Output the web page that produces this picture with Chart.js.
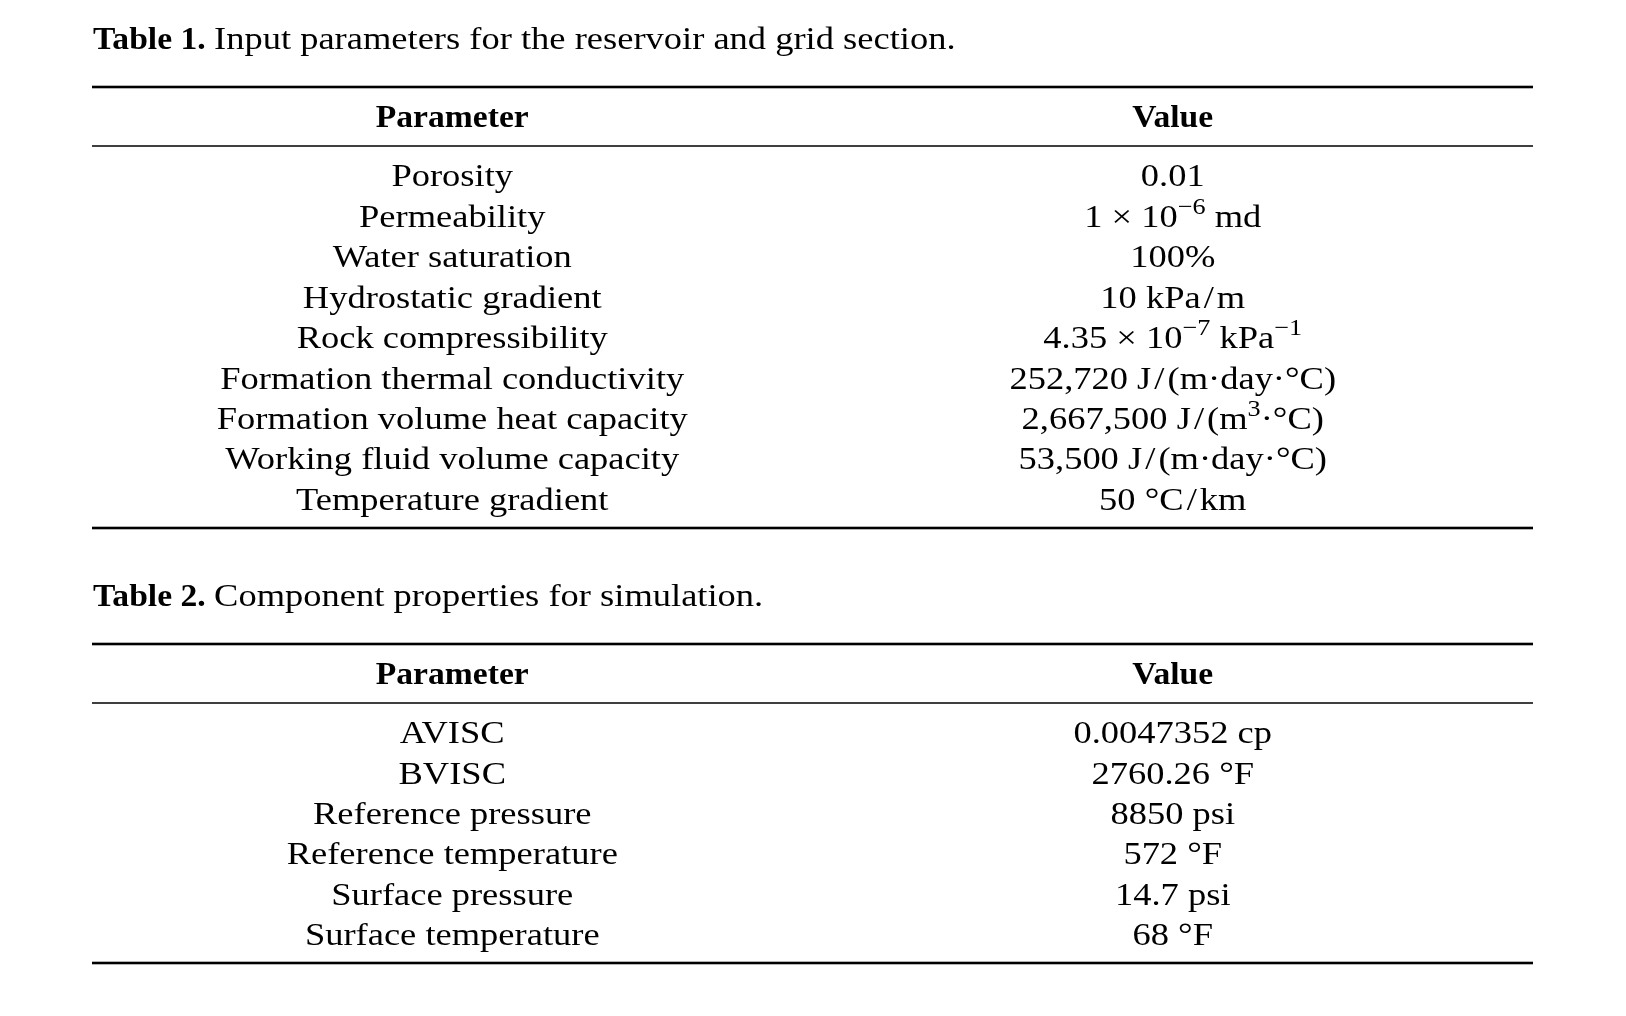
<!DOCTYPE html>
<html>
<head>
<meta charset="utf-8">
<script src="https://cdn.jsdelivr.net/npm/chart.js"></script>
<style>
  html, body { margin: 0; background: #fff; }
  #wrap { position: relative; width: 1626px; height: 1016px; }
  canvas { position: absolute; left: 0; }
</style>
</head>
<body>
<div id="wrap">
  <canvas id="table1" width="1626" height="560" style="top:0"></canvas>
  <canvas id="table2" width="1626" height="456" style="top:560px"></canvas>
</div>
<script>
// columns of both tables
const headers = ["Parameter", "Value"];

// table 1
const caption1 = ["Table 1.", "Input parameters for the reservoir and grid section."];
const params1 = [
    "Porosity",
    "Permeability",
    "Water saturation",
    "Hydrostatic gradient",
    "Rock compressibility",
    "Formation thermal conductivity",
    "Formation volume heat capacity",
    "Working fluid volume capacity",
    "Temperature gradient"
];
const values1 = [
    "0.01",
    "1 × 10^{−6} md",
    "100%",
    "10 kPa\u200a/\u200am",
    "4.35 × 10^{−7} kPa^{−1}",
    "252,720 J\u200a/\u200a(m·day·°C)",
    "2,667,500 J\u200a/\u200a(m^{3}·°C)",
    "53,500 J\u200a/\u200a(m·day·°C)",
    "50 °C\u200a/\u200akm"
];

// table 2
const caption2 = ["Table 2.", "Component properties for simulation."];
const params2 = [
    "AVISC",
    "BVISC",
    "Reference pressure",
    "Reference temperature",
    "Surface pressure",
    "Surface temperature"
];
const values2 = [
    "0.0047352 cp",
    "2760.26 °F",
    "8850 psi",
    "572 °F",
    "14.7 psi",
    "68 °F"
];

const FONT = '"Liberation Serif", "Times New Roman", serif';
const SIZE = 32;
const STRETCH = 1.14;
const BOLD_STRETCH = 1.05;

// split "10^{−6}" style markup into plain / superscript pieces
function parts(str) {
    const out = [];
    const re = /\^\{([^}]*)\}/g;
    let last = 0, m;
    while ((m = re.exec(str))) {
        if (m.index > last) out.push({ t: str.slice(last, m.index) });
        out.push({ t: m[1], sup: true });
        last = re.lastIndex;
    }
    if (last < str.length) out.push({ t: str.slice(last) });
    return out;
}

function fontFor(seg) {
    const size = seg.sup ? Math.round(SIZE * 0.72) : SIZE;
    return (seg.bold ? "bold " : "") + size + "px " + FONT;
}

function drawSegs(ctx, segs, x, y, align) {
    let total = 0;
    segs.forEach(s => {
        ctx.font = fontFor(s);
        s.k = s.bold ? BOLD_STRETCH : STRETCH;
        s.w = ctx.measureText(s.t).width * s.k;
        total += s.w;
    });
    let cx = align === "center" ? x - total / 2 : x;
    ctx.textAlign = "left";
    ctx.textBaseline = "alphabetic";
    segs.forEach(s => {
        ctx.font = fontFor(s);
        ctx.save();
        ctx.translate(cx, s.sup ? y - SIZE * 0.4 : y);
        ctx.scale(s.k, 1);
        ctx.fillText(s.t, 0, 0);
        ctx.restore();
        cx += s.w;
    });
}

function rule(ctx, x0, x1, y, w) {
    ctx.fillRect(x0, y - w / 2, x1 - x0, w);
}

const tablePlugin = {
    id: "tableText",
    afterDatasetsDraw(chart, args, opts) {
        const ctx = chart.ctx;
        const area = chart.chartArea;
        const xs = chart.scales.x;
        const topRule = area.top - 59;

        ctx.save();
        ctx.fillStyle = "#000";

        rule(ctx, area.left, area.right, topRule, 2.6);
        rule(ctx, area.left, area.right, area.top, 1.5);
        rule(ctx, area.left, area.right, area.bottom, 2.6);

        drawSegs(ctx, [{ t: opts.caption[0] + " ", bold: true }, { t: opts.caption[1] }],
            area.left + 1, topRule - 38, "left");

        headers.forEach((h, i) => {
            drawSegs(ctx, [{ t: h, bold: true }], xs.getPixelForValue(i), area.top - 19, "center");
        });

        chart.data.datasets.forEach((ds, di) => {
            chart.getDatasetMeta(di).data.forEach((pt, i) => {
                drawSegs(ctx, parts(opts.columns[di][i]), pt.x, pt.y, "center");
            });
        });
        ctx.restore();
    }
};

function makeTable(id, caption, params, values, padding) {
    const columns = [params, values];
    new Chart(document.getElementById(id), {
        type: "line",
        data: {
            labels: headers,
            datasets: columns.map((col, c) => ({
                label: headers[c],
                data: col.map((_, i) => ({ x: headers[c], y: i })),
                showLine: false,
                pointRadius: 0
            }))
        },
        options: {
            responsive: false,
            animation: false,
            layout: { padding: padding },
            scales: {
                x: { type: "category", labels: headers, offset: true, display: false },
                y: { type: "linear", reverse: true, min: -1, max: params.length - 0.55, display: false }
            },
            plugins: {
                legend: { display: false },
                tooltip: { enabled: false },
                tableText: { caption: caption, columns: columns }
            }
        },
        plugins: [tablePlugin]
    });
}

makeTable("table1", caption1, params1, values1, { left: 92, right: 93, top: 146, bottom: 32 });
makeTable("table2", caption2, params2, values2, { left: 92, right: 93, top: 143, bottom: 53 });
</script>
</body>
</html>
